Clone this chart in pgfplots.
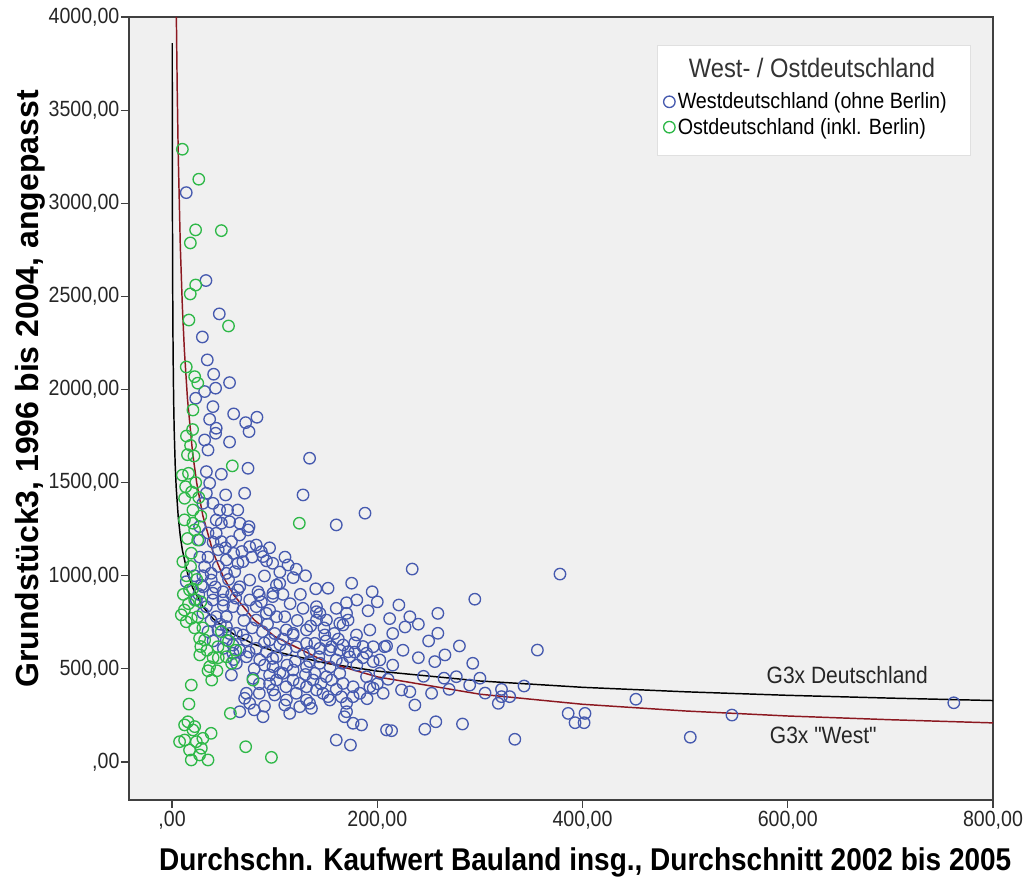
\documentclass[border=0pt]{standalone}
\usepackage{pgfplots}
\pgfplotsset{compat=1.18}
\usepackage{fontspec}
\setmainfont{Liberation Sans}[FakeStretch=0.89]
\newfontfamily\yfont{Liberation Sans}
\newfontfamily\qfont{Liberation Sans}[FakeStretch=0.89, Ligatures=TeXOff]
\definecolor{spssblue}{RGB}{70,90,175}
\definecolor{spssgreen}{RGB}{46,184,72}
\definecolor{bggray}{RGB}{240,240,240}
\definecolor{fitred}{RGB}{140,24,32}
\begin{document}
\begin{tikzpicture}
\useasboundingbox (-96.75pt,-61.5pt) rectangle (672pt,600pt);
\begin{axis}[
	scale only axis,
	width=648pt, height=587.25pt,
	xmin=-42, xmax=800, ymin=-204, ymax=4000,
	axis background/.style={fill=bggray},
	axis line style={black!75, line width=1.1pt},
	xtick={0,200,400,600,800},
	xticklabels={{,00},{200,00},{400,00},{600,00},{800,00}},
	ytick={0,500,1000,1500,2000,2500,3000,3500,4000},
	yticklabels={{,00},{500,00},{1000,00},{1500,00},{2000,00},{2500,00},{3000,00},{3500,00},{4000,00}},
	tick align=outside, tick pos=left,
	major tick length=6pt,
	tick style={black!75, line width=0.9pt},
	tick label style={font=\fontsize{16.5}{19}\selectfont, text=black!85},
	yticklabel style={inner sep=1pt},
	xticklabel style={inner sep=2pt},
	xlabel={Durchschn. Kaufwert Bauland insg., Durchschnitt 2002 bis 2005},
	xlabel style={at={(axis description cs:0.528,0)}, anchor=center, yshift=-46.5pt, font=\bfseries\fontsize{23.6}{26}\selectfont},
	ylabel={Grundstück3, 1996 bis 2004, angepasst},
	ylabel style={at={(axis description cs:-0.1146,0.525)}, anchor=center, font=\yfont\bfseries\fontsize{24}{28}\selectfont},
	legend style={at={(0.9734,0.9642)}, anchor=north east, fill=none, draw=none,
		font=\fontsize{16.6}{19}\selectfont, inner xsep=5pt, inner ysep=12.125pt, row sep=1.5pt},
	legend cell align=left,
	legend image code/.code={\draw[#1] plot coordinates {(0pt,0pt)};},
]
% legend box and title are drawn below; this row only keeps the room for the title
\addlegendimage{empty legend}
\addlegendentry{\makebox[212pt][l]{\hspace*{7.5pt}\fontsize{20}{22}\selectfont\phantom{West- / Ostdeutschland}\rule[-29pt]{0pt}{14pt}}}

\addplot[only marks, mark=o, spssblue, mark size=4.3pt, mark options={line width=1pt}] table {
x y
13.8 3057
33 2585
46 2406
29.5 2282
34.3 2159
40.5 2082
56 2037
42.4 2007
31.7 1989
23 1953
39.8 1908
60 1869
36.6 1840
71.7 1822
82.7 1851
43 1792
42.4 1765
75 1774
56 1718
31.7 1729
35 1675
134 1631
74 1577
33.4 1559
48 1545
36.6 1497
70.7 1443
127.6 1434
52.2 1434
33.4 1443
39.8 1389
64 1353
54 1353
30 1389
46.3 1353
43 1299
56 1290
66 1282
48 1282
75 1264
26.8 1264
160 1273
188 1336
74 1246
57.8 1183
48 1183
82 1165
87 1129
52.9 1085
69 1076
98 1067
113 1058
121 1035
31.7 1049
38 1013
61 1022
90 999
75.6 977
13.8 968
28.5 950
101.7 950
64 924
49.6 914
85 897
39.8 870
98 888
127.6 825
140.7 807
109.8 780
95 816
69 816
52.9 780
82 762
44.7 709
131 709
118 682
69 682
95 655
59.3 628
82 610
111 601
134 592
72.4 565
98 556
62.6 530
26.8 1192
43 1228
65.9 1219
75.6 1156
88.6 1103
104.9 960
64.2 1067
52.9 1013
38.2 977
65.9 941
83.7 914
98.3 906
160 825
171.5 762
163.4 745
150.4 762
192.7 709
196 619
207 619
166.6 628
155.3 619
144 610
131 637
117.9 691
111.4 709
101.7 780
91.9 798
82 834
75.6 870
59.3 834
49.6 870
39.8 906
30 941
23.6 870
33.4 834
43 780
52.9 727
62.6 691
72.4 655
91.9 592
101.7 565
121 619
52.9 655
59.3 584
85.4 548
98.3 512
108 476
117.9 494
131 512
144 530
160 548
173 565
189.5 584
202.4 548
57.8 467
78.8 449
85 369
70.7 342
65.9 270
88.6 243
75.6 315
95 467
101.7 440
111 404
124 422
131 333
109.8 306
114.6 261
135.8 288
72.4 369
98.3 387
111.4 333
121 369
124.4 297
134 315
131 404
140.7 387
147 369
153.7 333
166.6 422
176.4 404
183 369
192.7 404
170 315
168 243
176.4 208
184.6 199
160 118
173.8 91
209 172
205.7 369
137.4 440
150.4 458
163.4 476
189.5 458
202.4 476
234 1036
295 874
152 933
195 914
221 843
191 812
259 798
231.7 780
170 855
144 798
170 798
140.7 762
259 691
179.7 682
148.8 682
209 623
171.5 592
280 623
265.9 575
256 539
293 530
196 539
153.7 601
139 637
139 476
155.3 440
196 396
277 458
290 413
321 390
210.5 444
223.6 387
231.7 377
252.9 369
152 351
236.6 306
317.9 315
170 270
213.9 168
246.3 176
257 216
283 204
140.7 834
166.6 736
163.4 601
134 539
176.4 351
378 1009
356 601
343 408
329 351
321 351
452 337
386 261
402.4 261
392.7 211
401.5 211
334 122
505 133
545.6 252
761.8 318
35 1230
40 1180
45 1140
52 1150
60 1120
68 1130
78 1100
92 1080
105 1020
118 990
108 900
115 850
122 760
135 730
148 720
158 690
178 640
186 560
120 540
112 520
90 520
80 500
75 590
66 600
56 690
47 740
38 760
30 800
26 900
22 1000
27 1100
35 1100
45 1050
55 980
62 880
70 760
78 720
88 700
100 690
105 630
90 640
60 550
50 610
40 650
35 700
30 1000
42 940
50 840
58 900
87 860
93 740
108 660
128 580
143 565
154 510
166 530
180 520
150 650
162 660
178 590
186 620
100 360
95 420
85 420
90 300
80 280
118 440
105 480
130 470
145 420
160 390
165 350
190 340
200 420
215 520
225 600
240 560
245 460
265 450
270 390
300 450
305 370
215 690
227 725
240 740
250 650
212 770
200 860
180 870
175 960
140 930
125 900
95 1150
110 1100
130 1000
};
\addlegendentry{Westdeutschland (ohne Berlin)}

\addplot[only marks, mark=o, spssgreen, mark size=4.3pt, mark options={line width=1pt}] table {
x y
10 3290
26 3129
22.9 2857
17.8 2787
48 2853
23 2561
17.7 2513
16.4 2373
55 2341
13.8 2121
22 2069
25 2034
20.3 1890
21.3 1643
58.7 1590
13.2 1478
12.2 1416
20.3 1353
124 1282
20.3 1282
22 1246
25 1192
18.7 1121
10.5 1076
18.7 771
13.8 753
26.8 664
44.7 619
52.9 565
36.6 512
35 490
43.7 490
56.8 261
18.7 413
16.4 311
15.4 216
20.3 172
12.2 118
23.6 109
7.3 109
30 127
38 154
17 64
26.8 38
18.7 11
35 11
22 190
12.2 199
28.5 74
71.7 82
96.8 25
78.8 440
27 575
31.7 655
38.6 440
22 870
17 924
10 1540
15 1650
18 1700
20 1785
12 816
9 790
48 700
55 650
62 600
45 560
58 530
12 1300
15 1200
18 1050
14 1000
24 980
20 930
28 860
25 780
22 720
30 720
34 600
28 620
40 560
16 850
11 900
19 1450
23 1500
16 1550
26 1420
14 1750
28 1320
};
\addlegendentry{Ostdeutschland (inkl. Berlin)\rule[-13.5pt]{0pt}{0pt}}

% G3x Deutschland
\addplot[black, line width=1.1pt, forget plot] coordinates {
(0.135,3860)(0.2,3437)(0.3,3064)(0.5,2653)(0.75,2366)(1,2181)(1.5,1945)(2,1793)
(3,1599)(4,1474)(6,1315)(8,1212)(10,1138)(15,1015)(20,936)(30,834)(40,769)
(60,686)(80,632)(100,594)(150,530)(200,488)(300,435)(400,401)(500,377)
(600,358)(700,343)(800,330)};
% G3x "West"
\addplot[fitred, line width=1.1pt, forget plot] coordinates {
(4.16,4000)(5,3606)(6,3256)(8,2771)(10,2446)(12,2208)(15,1949)(20,1659)(24,1498)
(30,1322)(40,1125)(50,993)(60,897)(80,763)(100,674)(150,537)(200,457)(300,364)
(400,310)(500,274)(600,247)(700,227)(800,210)};

\node[font=\fontsize{17.7}{20}\selectfont, text=black!85] at (axis cs:658,467) {G3x Deutschland};
\node[font=\qfont\fontsize{17.7}{20}\selectfont, text=black!85] at (axis cs:634.6,145) {G3x "West"};

% legend box and title
\draw[fill=white, draw=black!12] (rel axis cs:0.6111,0.8238) rectangle (rel axis cs:0.9734,0.9642);
\node[font=\fontsize{20}{22}\selectfont, text=black!80] at (rel axis cs:0.7905,0.9349) {West- / Ostdeutschland};
\end{axis}
\end{tikzpicture}
\end{document}
